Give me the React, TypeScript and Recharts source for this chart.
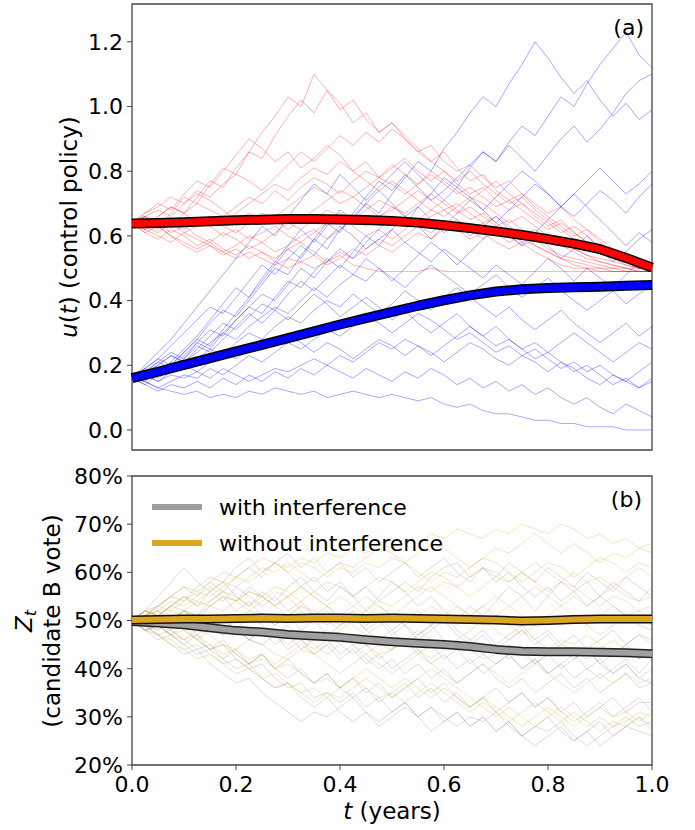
import React from 'react';
import { LineChart, Line, XAxis, YAxis, ReferenceArea, Legend } from 'recharts';

const FONT = '"DejaVu Sans", sans-serif';

// sample-path time grid (years)
const T_PATH = [
  0, 0.025, 0.05, 0.075, 0.1, 0.125, 0.15, 0.175, 0.2, 0.225, 0.25, 0.275, 0.3, 0.325, 0.35, 0.375, 0.4, 0.425, 0.45, 0.475,
  0.5, 0.525, 0.55, 0.575, 0.6, 0.625, 0.65, 0.675, 0.7, 0.725, 0.75, 0.775, 0.8, 0.825, 0.85, 0.875, 0.9, 0.925, 0.95, 0.975, 1.0,
];
// mean-curve time grid (years)
const T_MEAN = [0, 0.05, 0.1, 0.15, 0.2, 0.25, 0.3, 0.35, 0.4, 0.45, 0.5, 0.55, 0.6, 0.65, 0.7, 0.75, 0.8, 0.85, 0.9, 0.95, 1.0];

const X_TICKS = [0, 0.2, 0.4, 0.6, 0.8, 1.0];
const U_TICKS = [0, 0.2, 0.4, 0.6, 0.8, 1.0, 1.2];
const Z_TICKS = [20, 30, 40, 50, 60, 70, 80];

// panel (a): mean control policies
const RED_MEAN = [0.638, 0.64, 0.642, 0.645, 0.648, 0.65, 0.652, 0.652, 0.651, 0.649, 0.646, 0.641, 0.633, 0.624, 0.614, 0.603, 0.59, 0.576, 0.559, 0.532, 0.502];
const BLUE_MEAN = [0.16, 0.18, 0.201, 0.222, 0.243, 0.263, 0.284, 0.305, 0.326, 0.346, 0.365, 0.384, 0.401, 0.416, 0.428, 0.435, 0.439, 0.441, 0.443, 0.446, 0.448];

// panel (a): sample paths
const RED_PATHS = [
  [0.64, 0.66, 0.63, 0.67, 0.72, 0.7, 0.76, 0.81, 0.79, 0.86, 0.92, 0.97, 1.03, 1.0, 1.1, 1.05, 0.99, 1.02, 0.96, 0.92, 0.95, 0.9, 0.86, 0.88, 0.83, 0.8, 0.82, 0.78, 0.75, 0.77, 0.73, 0.7, 0.67, 0.69, 0.65, 0.62, 0.59, 0.56, 0.53, 0.51, 0.5],
  [0.64, 0.62, 0.66, 0.69, 0.67, 0.72, 0.77, 0.75, 0.81, 0.86, 0.84, 0.91, 0.97, 1.02, 0.98, 1.05, 1.01, 0.95, 0.98, 0.92, 0.95, 0.91, 0.87, 0.83, 0.86, 0.81, 0.77, 0.79, 0.74, 0.71, 0.73, 0.69, 0.66, 0.63, 0.6, 0.62, 0.58, 0.55, 0.53, 0.51, 0.5],
  [0.64, 0.67, 0.7, 0.68, 0.73, 0.77, 0.75, 0.8, 0.85, 0.9, 0.87, 0.83, 0.86, 0.81, 0.84, 0.88, 0.85, 0.8, 0.83, 0.78, 0.81, 0.84, 0.8, 0.77, 0.8, 0.76, 0.73, 0.75, 0.71, 0.68, 0.7, 0.66, 0.63, 0.65, 0.61, 0.58, 0.56, 0.54, 0.52, 0.51, 0.5],
  [0.64, 0.62, 0.65, 0.63, 0.67, 0.7, 0.68, 0.66, 0.69, 0.72, 0.7, 0.74, 0.71, 0.75, 0.78, 0.76, 0.73, 0.77, 0.8, 0.78, 0.82, 0.79, 0.76, 0.8, 0.77, 0.74, 0.71, 0.74, 0.77, 0.73, 0.7, 0.67, 0.64, 0.61, 0.63, 0.6, 0.57, 0.55, 0.53, 0.51, 0.5],
  [0.64, 0.61, 0.59, 0.62, 0.6, 0.57, 0.59, 0.56, 0.54, 0.57, 0.55, 0.53, 0.56, 0.58, 0.55, 0.52, 0.54, 0.51, 0.5, 0.49, 0.49, 0.49, 0.49, 0.5, 0.49, 0.49, 0.49, 0.49, 0.49, 0.49, 0.49, 0.49, 0.49, 0.49, 0.49, 0.49, 0.49, 0.49, 0.49, 0.49, 0.49],
  [0.64, 0.66, 0.64, 0.61, 0.63, 0.6, 0.58, 0.61, 0.59, 0.56, 0.58, 0.55, 0.57, 0.6, 0.62, 0.59, 0.62, 0.65, 0.63, 0.66, 0.69, 0.67, 0.7, 0.73, 0.7, 0.67, 0.69, 0.66, 0.63, 0.65, 0.62, 0.59, 0.61, 0.58, 0.56, 0.54, 0.52, 0.51, 0.5, 0.49, 0.49],
  [0.64, 0.63, 0.66, 0.69, 0.67, 0.64, 0.66, 0.63, 0.61, 0.64, 0.67, 0.65, 0.62, 0.65, 0.68, 0.71, 0.74, 0.72, 0.75, 0.78, 0.76, 0.73, 0.76, 0.79, 0.76, 0.73, 0.75, 0.72, 0.69, 0.71, 0.68, 0.65, 0.62, 0.64, 0.61, 0.58, 0.56, 0.54, 0.52, 0.5, 0.5],
  [0.64, 0.62, 0.6, 0.58, 0.61, 0.59, 0.57, 0.55, 0.53, 0.55, 0.53, 0.51, 0.53, 0.52, 0.5, 0.52, 0.55, 0.53, 0.56, 0.59, 0.57, 0.6, 0.63, 0.61, 0.64, 0.62, 0.59, 0.61, 0.58, 0.56, 0.58, 0.55, 0.53, 0.51, 0.5, 0.5, 0.49, 0.49, 0.49, 0.49, 0.49],
  [0.64, 0.67, 0.69, 0.72, 0.7, 0.73, 0.71, 0.68, 0.65, 0.67, 0.64, 0.66, 0.69, 0.72, 0.75, 0.73, 0.7, 0.72, 0.69, 0.66, 0.68, 0.71, 0.74, 0.71, 0.68, 0.7, 0.67, 0.64, 0.66, 0.63, 0.6, 0.62, 0.59, 0.57, 0.55, 0.53, 0.52, 0.51, 0.5, 0.5, 0.5],
  [0.64, 0.65, 0.62, 0.64, 0.61, 0.63, 0.66, 0.64, 0.67, 0.7, 0.73, 0.76, 0.74, 0.78, 0.81, 0.79, 0.83, 0.8, 0.77, 0.74, 0.77, 0.74, 0.71, 0.68, 0.71, 0.68, 0.65, 0.67, 0.64, 0.61, 0.59, 0.57, 0.55, 0.53, 0.52, 0.51, 0.5, 0.5, 0.49, 0.49, 0.49],
  [0.64, 0.61, 0.63, 0.6, 0.57, 0.55, 0.57, 0.54, 0.56, 0.53, 0.55, 0.52, 0.5, 0.52, 0.54, 0.51, 0.53, 0.56, 0.54, 0.57, 0.55, 0.58, 0.61, 0.59, 0.62, 0.65, 0.62, 0.64, 0.61, 0.58, 0.6, 0.57, 0.55, 0.53, 0.51, 0.5, 0.5, 0.49, 0.49, 0.49, 0.49],
  [0.64, 0.66, 0.68, 0.66, 0.7, 0.74, 0.72, 0.76, 0.79, 0.77, 0.74, 0.78, 0.82, 0.86, 0.83, 0.87, 0.91, 0.88, 0.92, 0.89, 0.93, 0.9, 0.86, 0.83, 0.8, 0.77, 0.8, 0.76, 0.73, 0.7, 0.72, 0.68, 0.65, 0.62, 0.59, 0.57, 0.55, 0.53, 0.51, 0.5, 0.5],
  [0.64, 0.63, 0.61, 0.64, 0.62, 0.65, 0.63, 0.6, 0.62, 0.59, 0.61, 0.63, 0.6, 0.58, 0.61, 0.64, 0.67, 0.65, 0.68, 0.71, 0.69, 0.66, 0.63, 0.66, 0.68, 0.65, 0.62, 0.59, 0.62, 0.6, 0.57, 0.59, 0.56, 0.54, 0.53, 0.52, 0.51, 0.5, 0.5, 0.49, 0.49],
  [0.64, 0.66, 0.63, 0.6, 0.58, 0.56, 0.58, 0.55, 0.57, 0.6, 0.58, 0.61, 0.64, 0.62, 0.65, 0.68, 0.66, 0.63, 0.6, 0.62, 0.59, 0.62, 0.65, 0.68, 0.66, 0.69, 0.72, 0.7, 0.67, 0.64, 0.66, 0.63, 0.6, 0.58, 0.56, 0.54, 0.53, 0.52, 0.51, 0.5, 0.5],
];

const BLUE_PATHS = [
  [0.16, 0.18, 0.21, 0.24, 0.22, 0.27, 0.31, 0.29, 0.34, 0.38, 0.42, 0.4, 0.45, 0.5, 0.47, 0.52, 0.56, 0.53, 0.58, 0.62, 0.66, 0.63, 0.69, 0.73, 0.78, 0.75, 0.81, 0.86, 0.83, 0.89, 0.94, 0.91, 0.97, 1.03, 1.0, 1.07, 1.13, 1.18, 1.23, 1.16, 1.12],
  [0.16, 0.19, 0.22, 0.2, 0.24, 0.28, 0.33, 0.37, 0.35, 0.4, 0.45, 0.5, 0.48, 0.54, 0.59, 0.56, 0.62, 0.66, 0.7, 0.67, 0.73, 0.78, 0.83, 0.8, 0.87, 0.92, 0.98, 1.03, 1.0, 1.07, 1.13, 1.2, 1.15, 1.09, 1.04, 1.08, 1.02, 0.97, 1.01, 0.96, 0.99],
  [0.16, 0.14, 0.17, 0.2, 0.24, 0.28, 0.26, 0.31, 0.36, 0.41, 0.46, 0.51, 0.56, 0.53, 0.59, 0.64, 0.61, 0.67, 0.72, 0.77, 0.74, 0.79, 0.75, 0.71, 0.74, 0.78, 0.82, 0.86, 0.83, 0.88, 0.84, 0.8, 0.85, 0.9, 0.94, 0.89, 0.93, 0.98, 1.04, 1.08, 1.1],
  [0.16, 0.18, 0.16, 0.19, 0.23, 0.27, 0.25, 0.3, 0.34, 0.38, 0.36, 0.41, 0.46, 0.44, 0.49, 0.53, 0.5, 0.55, 0.6, 0.57, 0.62, 0.66, 0.63, 0.59, 0.63, 0.67, 0.71, 0.68, 0.64, 0.68, 0.72, 0.76, 0.73, 0.69, 0.66, 0.7, 0.74, 0.71, 0.67, 0.72, 0.76],
  [0.16, 0.17, 0.2, 0.23, 0.21, 0.25, 0.29, 0.33, 0.31, 0.35, 0.39, 0.37, 0.42, 0.46, 0.43, 0.47, 0.51, 0.48, 0.53, 0.5, 0.46, 0.5, 0.54, 0.58, 0.55, 0.51, 0.55, 0.59, 0.63, 0.6, 0.57, 0.61, 0.57, 0.53, 0.56, 0.6, 0.56, 0.52, 0.55, 0.59, 0.62],
  [0.16, 0.15, 0.13, 0.12, 0.11, 0.12, 0.1, 0.11, 0.1, 0.12, 0.11, 0.13, 0.12, 0.11, 0.12, 0.1, 0.11, 0.12, 0.11, 0.1, 0.11, 0.1, 0.09, 0.1, 0.08, 0.07, 0.08, 0.06, 0.05, 0.05, 0.04, 0.03, 0.03, 0.02, 0.02, 0.01, 0.01, 0.01, 0.0, 0.0, 0.0],
  [0.16, 0.14, 0.12, 0.14, 0.13, 0.15, 0.13, 0.16, 0.14, 0.17, 0.15, 0.18, 0.16, 0.19, 0.17, 0.2, 0.18, 0.16, 0.19, 0.17, 0.15, 0.18, 0.16, 0.19, 0.17, 0.14, 0.16, 0.13, 0.15, 0.12, 0.14, 0.11, 0.13, 0.1, 0.08, 0.1, 0.07, 0.05, 0.08, 0.06, 0.04],
  [0.16, 0.17, 0.15, 0.18, 0.2, 0.18, 0.21, 0.24, 0.22, 0.25, 0.28, 0.26, 0.29, 0.27, 0.24, 0.27, 0.25, 0.22, 0.25, 0.28, 0.26, 0.23, 0.26, 0.24, 0.21, 0.24, 0.27, 0.25, 0.22, 0.2, 0.23, 0.21, 0.18, 0.21, 0.19, 0.16, 0.14, 0.17, 0.15, 0.13, 0.16],
  [0.16, 0.15, 0.18, 0.21, 0.19, 0.22, 0.25, 0.23, 0.27, 0.3, 0.28, 0.32, 0.35, 0.33, 0.37, 0.4, 0.38, 0.42, 0.39, 0.36, 0.39, 0.43, 0.4, 0.37, 0.41, 0.44, 0.41, 0.38, 0.35, 0.38, 0.34, 0.31, 0.34, 0.37, 0.33, 0.3, 0.27, 0.3, 0.33, 0.29, 0.32],
  [0.16, 0.18, 0.2, 0.23, 0.21, 0.24, 0.27, 0.3, 0.28, 0.32, 0.35, 0.38, 0.36, 0.4, 0.44, 0.41, 0.45, 0.48, 0.46, 0.5, 0.47, 0.44, 0.48, 0.51, 0.48, 0.45, 0.42, 0.45, 0.48, 0.44, 0.41, 0.44, 0.47, 0.43, 0.4, 0.37, 0.4, 0.43, 0.39, 0.42, 0.45],
  [0.16, 0.15, 0.13, 0.15, 0.17, 0.16, 0.19, 0.17, 0.2, 0.23, 0.21, 0.24, 0.27, 0.25, 0.28, 0.31, 0.29, 0.32, 0.35, 0.33, 0.3, 0.33, 0.36, 0.34, 0.31, 0.28, 0.3, 0.27, 0.24, 0.26, 0.23, 0.25, 0.22, 0.19, 0.21, 0.18, 0.2, 0.17, 0.15, 0.18, 0.21],
  [0.16, 0.17, 0.15, 0.17, 0.16, 0.18, 0.16, 0.19, 0.17, 0.15, 0.17, 0.19, 0.18, 0.2, 0.22, 0.2, 0.23, 0.21, 0.24, 0.27, 0.25, 0.28, 0.26, 0.23, 0.26, 0.29, 0.32, 0.29, 0.26, 0.28, 0.25, 0.22, 0.24, 0.27, 0.3, 0.27, 0.24, 0.21, 0.24, 0.27, 0.25],
  [0.16, 0.19, 0.22, 0.26, 0.3, 0.34, 0.38, 0.36, 0.41, 0.46, 0.51, 0.48, 0.53, 0.57, 0.54, 0.59, 0.63, 0.6, 0.56, 0.59, 0.62, 0.58, 0.55, 0.52, 0.56, 0.53, 0.5, 0.47, 0.51, 0.48, 0.45, 0.49, 0.53, 0.5, 0.46, 0.5, 0.47, 0.44, 0.48, 0.52, 0.49],
  [0.16, 0.2, 0.24, 0.28, 0.33, 0.38, 0.43, 0.48, 0.53, 0.58, 0.63, 0.6, 0.66, 0.71, 0.76, 0.73, 0.79, 0.75, 0.71, 0.75, 0.79, 0.83, 0.79, 0.75, 0.71, 0.75, 0.72, 0.68, 0.72, 0.76, 0.8, 0.77, 0.73, 0.69, 0.73, 0.77, 0.81, 0.77, 0.73, 0.76, 0.8],
  [0.16, 0.18, 0.21, 0.19, 0.22, 0.26, 0.24, 0.28, 0.32, 0.36, 0.33, 0.37, 0.34, 0.38, 0.42, 0.39, 0.35, 0.38, 0.41, 0.38, 0.34, 0.37, 0.33, 0.3, 0.33, 0.36, 0.32, 0.29, 0.32, 0.28, 0.25, 0.27, 0.24, 0.21, 0.18, 0.2, 0.17, 0.14, 0.16, 0.13, 0.15],
  [0.16, 0.19, 0.17, 0.21, 0.25, 0.29, 0.34, 0.39, 0.44, 0.41, 0.47, 0.52, 0.57, 0.62, 0.58, 0.63, 0.68, 0.65, 0.7, 0.74, 0.7, 0.66, 0.69, 0.65, 0.61, 0.64, 0.6, 0.63, 0.66, 0.62, 0.58, 0.61, 0.65, 0.69, 0.73, 0.69, 0.65, 0.61, 0.57, 0.61, 0.58],
];

// panel (b): mean vote share (%)
const GRAY_MEAN = [49.8, 49.5, 49.1, 48.5, 47.9, 47.6, 47.1, 46.8, 46.5, 46.0, 45.6, 45.3, 45.0, 44.6, 44.0, 43.6, 43.5, 43.5, 43.4, 43.3, 43.1];
const GOLD_MEAN = [50.1, 50.2, 50.3, 50.3, 50.4, 50.5, 50.4, 50.5, 50.5, 50.4, 50.5, 50.4, 50.3, 50.2, 50.1, 49.9, 50.0, 50.2, 50.3, 50.3, 50.3];

// panel (b): sample paths (%)
const GRAY_PATHS = [
  [50, 52, 55, 58, 61, 58, 56, 58, 55, 53, 56, 54, 57, 59, 56, 54, 57, 55, 52, 55, 58, 56, 53, 55, 52, 50, 53, 51, 54, 57, 55, 52, 55, 58, 56, 53, 55, 58, 56, 54, 57],
  [50, 51, 53, 55, 54, 57, 59, 58, 61, 63, 60, 62, 64, 61, 63, 60, 62, 59, 61, 58, 60, 62, 59, 61, 63, 60, 58, 61, 59, 62, 60, 58, 61, 59, 57, 60, 58, 56, 59, 57, 55],
  [50, 48, 47, 45, 43, 44, 41, 39, 37, 38, 35, 33, 31, 29, 31, 30, 32, 34, 31, 29, 31, 33, 30, 32, 30, 28, 30, 29, 31, 28, 26, 28, 30, 27, 25, 27, 29, 26, 28, 30, 28],
  [50, 49, 47, 48, 46, 44, 45, 42, 40, 41, 38, 36, 37, 34, 32, 34, 31, 29, 31, 28, 30, 32, 30, 27, 29, 31, 28, 30, 27, 29, 26, 24, 26, 28, 25, 27, 24, 26, 28, 27, 26],
  [50, 51, 49, 50, 52, 50, 48, 47, 49, 46, 45, 47, 44, 46, 43, 45, 42, 44, 41, 43, 40, 42, 44, 41, 43, 40, 42, 39, 41, 43, 40, 42, 39, 41, 38, 40, 42, 39, 41, 38, 40],
  [50, 49, 51, 48, 50, 47, 49, 51, 48, 46, 48, 45, 47, 44, 46, 48, 45, 43, 45, 42, 44, 46, 43, 45, 42, 44, 41, 43, 45, 42, 44, 41, 43, 40, 42, 44, 41, 39, 41, 38, 37],
  [50, 52, 51, 53, 55, 53, 56, 54, 57, 55, 53, 55, 52, 54, 51, 53, 50, 52, 49, 51, 48, 50, 52, 49, 51, 48, 46, 48, 45, 47, 49, 46, 48, 45, 47, 44, 46, 48, 45, 47, 46],
  [50, 48, 49, 47, 45, 47, 44, 42, 44, 41, 43, 40, 38, 40, 37, 39, 36, 38, 35, 37, 34, 36, 38, 35, 37, 34, 32, 34, 36, 33, 35, 32, 34, 31, 33, 30, 32, 34, 31, 33, 33],
  [50, 49, 48, 50, 52, 51, 54, 56, 54, 57, 55, 53, 55, 52, 50, 52, 49, 51, 48, 46, 48, 45, 47, 49, 46, 44, 46, 43, 41, 43, 40, 42, 39, 41, 43, 40, 38, 40, 42, 39, 42],
  [50, 51, 52, 50, 48, 46, 44, 45, 42, 40, 41, 38, 36, 37, 34, 35, 33, 35, 32, 34, 31, 33, 30, 32, 29, 31, 28, 30, 27, 29, 26, 28, 27, 29, 26, 24, 26, 28, 30, 28, 29],
  [50, 48, 49, 47, 49, 46, 48, 50, 48, 51, 49, 47, 49, 46, 44, 46, 43, 45, 42, 40, 42, 39, 41, 38, 40, 37, 39, 41, 38, 36, 38, 35, 37, 39, 36, 38, 35, 37, 39, 36, 37],
  [50, 52, 53, 55, 57, 55, 58, 56, 59, 61, 59, 62, 60, 57, 59, 56, 58, 55, 57, 54, 56, 58, 56, 59, 61, 62, 59, 61, 58, 60, 57, 55, 57, 54, 56, 58, 55, 53, 51, 49, 48],
  [50, 49, 51, 53, 52, 50, 53, 55, 52, 54, 51, 49, 51, 48, 50, 47, 49, 51, 48, 50, 47, 49, 46, 48, 50, 47, 45, 47, 44, 46, 48, 45, 47, 44, 42, 44, 41, 43, 45, 42, 44],
  [50, 48, 46, 47, 45, 43, 44, 46, 43, 41, 43, 40, 42, 39, 37, 39, 36, 34, 36, 33, 35, 37, 34, 36, 33, 35, 32, 34, 31, 33, 35, 32, 34, 31, 29, 31, 33, 30, 32, 34, 31],
];

const GOLD_PATHS = [
  [50, 51, 53, 52, 54, 56, 55, 57, 59, 58, 60, 62, 61, 63, 62, 64, 63, 65, 64, 66, 65, 67, 66, 68, 67, 69, 68, 67, 69, 68, 70, 69, 68, 70, 69, 67, 68, 66, 67, 65, 66],
  [50, 52, 51, 53, 55, 54, 56, 58, 57, 59, 61, 60, 62, 60, 58, 60, 62, 61, 63, 65, 64, 62, 64, 66, 65, 63, 61, 63, 65, 64, 66, 68, 66, 64, 66, 64, 62, 64, 63, 65, 64],
  [50, 49, 47, 46, 44, 45, 43, 41, 42, 40, 38, 39, 37, 35, 36, 34, 36, 38, 36, 34, 35, 33, 35, 37, 35, 33, 31, 33, 31, 29, 31, 33, 31, 29, 31, 29, 27, 29, 28, 30, 27],
  [50, 48, 49, 47, 48, 46, 44, 45, 43, 41, 42, 40, 41, 39, 37, 38, 36, 38, 40, 38, 36, 38, 36, 34, 36, 34, 32, 34, 32, 30, 28, 30, 32, 30, 28, 30, 32, 30, 31, 29, 31],
  [50, 51, 50, 52, 51, 49, 50, 48, 50, 52, 51, 49, 51, 53, 51, 49, 51, 49, 47, 49, 51, 49, 47, 49, 51, 53, 51, 49, 51, 53, 51, 49, 51, 53, 51, 49, 51, 53, 51, 52, 50],
  [50, 52, 51, 53, 55, 53, 54, 56, 55, 53, 55, 57, 56, 54, 56, 58, 57, 55, 57, 59, 58, 56, 58, 60, 59, 57, 59, 61, 60, 58, 60, 62, 60, 58, 60, 58, 59, 57, 59, 61, 59],
  [50, 49, 48, 50, 52, 51, 49, 47, 48, 46, 48, 47, 45, 47, 45, 43, 45, 47, 45, 43, 44, 46, 44, 42, 44, 46, 44, 42, 43, 45, 43, 41, 43, 45, 44, 42, 44, 46, 44, 42, 43],
  [50, 51, 52, 54, 53, 55, 57, 55, 54, 56, 55, 53, 55, 57, 55, 53, 51, 53, 55, 53, 51, 53, 55, 57, 55, 53, 51, 53, 55, 53, 55, 57, 55, 53, 55, 53, 55, 57, 55, 54, 55],
  [50, 49, 50, 48, 46, 47, 45, 43, 44, 42, 43, 41, 43, 45, 43, 41, 39, 41, 43, 41, 39, 41, 43, 41, 39, 37, 39, 41, 39, 37, 39, 41, 39, 37, 35, 37, 39, 37, 39, 37, 38],
  [50, 52, 51, 50, 52, 54, 53, 55, 54, 52, 54, 56, 55, 57, 55, 53, 55, 53, 51, 53, 51, 49, 51, 53, 51, 49, 51, 53, 51, 49, 47, 49, 51, 49, 51, 49, 47, 49, 51, 50, 49],
  [50, 48, 49, 47, 46, 48, 47, 45, 44, 46, 45, 43, 42, 44, 43, 45, 47, 45, 43, 45, 44, 46, 48, 46, 44, 46, 48, 50, 48, 46, 48, 46, 44, 46, 45, 47, 45, 43, 45, 47, 45],
  [50, 51, 53, 55, 57, 56, 58, 60, 59, 61, 63, 62, 60, 62, 61, 59, 61, 60, 62, 61, 63, 62, 60, 58, 60, 59, 61, 63, 62, 60, 58, 60, 62, 61, 59, 61, 63, 62, 60, 62, 61],
  [50, 49, 47, 45, 44, 42, 43, 41, 39, 40, 38, 36, 37, 35, 33, 35, 34, 36, 38, 36, 34, 36, 38, 40, 38, 36, 34, 32, 30, 32, 30, 28, 30, 32, 30, 28, 30, 28, 29, 31, 30],
  [50, 51, 52, 50, 49, 51, 53, 52, 54, 56, 55, 53, 51, 53, 52, 50, 48, 50, 52, 54, 53, 55, 57, 56, 58, 57, 55, 57, 59, 58, 60, 58, 56, 58, 57, 55, 53, 55, 54, 52, 53],
];

const LEGEND_ITEMS = [
  { name: 'with interference', color: '#a0a0a0' },
  { name: 'without interference', color: '#daa520' },
];

const U_DOMAIN: [number, number] = [-0.062, 1.317];
const Z_DOMAIN: [number, number] = [20, 80];

const meanIndex = (t: number) => T_MEAN.findIndex((m) => Math.abs(m - t) < 1e-9);

const topData = T_PATH.map((t, i) => {
  const row: Record<string, number | undefined> = { t };
  const m = meanIndex(t);
  row.rm = m >= 0 ? RED_MEAN[m] : undefined;
  row.bm = m >= 0 ? BLUE_MEAN[m] : undefined;
  RED_PATHS.forEach((p, k) => (row['r' + k] = p[i]));
  BLUE_PATHS.forEach((p, k) => (row['b' + k] = p[i]));
  return row;
});

const bottomData = T_PATH.map((t, i) => {
  const row: Record<string, number | undefined> = { t };
  const m = meanIndex(t);
  row.gm = m >= 0 ? GRAY_MEAN[m] : undefined;
  row.om = m >= 0 ? GOLD_MEAN[m] : undefined;
  GRAY_PATHS.forEach((p, k) => (row['g' + k] = p[i]));
  GOLD_PATHS.forEach((p, k) => (row['o' + k] = p[i]));
  return row;
});

const thin = (key: string, color: string, opacity: number) => (
  <Line
    key={key}
    dataKey={key}
    type="linear"
    stroke={color}
    strokeOpacity={opacity}
    strokeWidth={1}
    dot={false}
    activeDot={false}
    isAnimationActive={false}
    legendType="none"
  />
);

const thick = (key: string, id: string, color: string, width: number) => (
  <Line
    key={id}
    dataKey={key}
    type="linear"
    stroke={color}
    strokeWidth={width}
    strokeLinejoin="round"
    connectNulls
    dot={false}
    activeDot={false}
    isAnimationActive={false}
    legendType="none"
  />
);

const makeYTick = (fmt: (v: number) => string) => (props: any) => (
  <text x={props.x} y={props.y} dy="0.36em" textAnchor="end" fontSize={22} fontFamily={FONT} fill="#000">
    {fmt(props.payload.value)}
  </text>
);

const XTick = (props: any) => (
  <text x={props.x} y={props.y} dy="0.75em" textAnchor="middle" fontSize={22} fontFamily={FONT} fill="#000">
    {Number(props.payload.value).toFixed(1)}
  </text>
);

const renderLegend = () => (
  <div style={{ fontFamily: FONT, fontSize: 22, color: '#000' }}>
    {LEGEND_ITEMS.map((item) => (
      <div key={item.name} style={{ display: 'flex', alignItems: 'center', height: 36 }}>
        <svg width={50} height={10} style={{ marginRight: 17 }}>
          <line x1={0} y1={5} x2={50} y2={5} stroke={item.color} strokeWidth={6} />
        </svg>
        <span style={{ whiteSpace: 'nowrap' }}>{item.name}</span>
      </div>
    ))}
  </div>
);

export default function App() {
  return (
    <div style={{ position: 'absolute', left: 0, top: 0, width: 695, height: 830, background: '#fff', fontFamily: FONT }}>
      <div style={{ position: 'absolute', left: 0, top: 0 }}>
        <LineChart width={695} height={460} data={topData} margin={{ top: 4, right: 43, bottom: 10, left: 62 }}>
          <XAxis dataKey="t" type="number" domain={[0, 1]} hide />
          <YAxis
            type="number"
            domain={U_DOMAIN}
            ticks={U_TICKS}
            allowDataOverflow
            width={70}
            axisLine={false}
            tickSize={5}
            tickMargin={4}
            tickLine={{ stroke: '#444' }}
            tick={makeYTick((v) => v.toFixed(1))}
          />
          {RED_PATHS.map((_, k) => thin('r' + k, '#ff0000', 0.3))}
          {BLUE_PATHS.map((_, k) => thin('b' + k, '#0000ff', 0.34))}
          {thick('rm', 'rm-edge', '#000', 10)}
          {thick('rm', 'rm-fill', '#ff0000', 7)}
          {thick('bm', 'bm-edge', '#000', 10)}
          {thick('bm', 'bm-fill', '#0000ff', 7)}
          <ReferenceArea x1={0} x2={1} y1={U_DOMAIN[0]} y2={U_DOMAIN[1]} fill="none" stroke="#444" strokeWidth={1.3} />
        </LineChart>
      </div>
      <div style={{ position: 'absolute', left: 0, top: 446 }}>
        <LineChart width={695} height={384} data={bottomData} margin={{ top: 30, right: 43, bottom: 0, left: 62 }}>
          <XAxis
            dataKey="t"
            type="number"
            domain={[0, 1]}
            ticks={X_TICKS}
            height={65}
            axisLine={false}
            tickSize={5}
            tickMargin={5}
            tickLine={{ stroke: '#444' }}
            tick={XTick}
          />
          <YAxis
            type="number"
            domain={Z_DOMAIN}
            ticks={Z_TICKS}
            allowDataOverflow
            width={70}
            axisLine={false}
            tickSize={5}
            tickMargin={4}
            tickLine={{ stroke: '#444' }}
            tick={makeYTick((v) => `${v}%`)}
          />
          {GRAY_PATHS.map((_, k) => thin('g' + k, '#808080', 0.28))}
          {GOLD_PATHS.map((_, k) => thin('o' + k, '#daa520', 0.3))}
          {thick('gm', 'gm-edge', '#222', 9)}
          {thick('gm', 'gm-fill', '#a0a0a0', 6)}
          {thick('om', 'om-edge', '#111', 9)}
          {thick('om', 'om-fill', '#daa520', 6)}
          <ReferenceArea x1={0} x2={1} y1={Z_DOMAIN[0]} y2={Z_DOMAIN[1]} fill="none" stroke="#444" strokeWidth={1.3} />
          <Legend
            layout="vertical"
            align="center"
            verticalAlign="middle"
            content={renderLegend}
            wrapperStyle={{ left: 152, top: 43, width: 'auto', height: 'auto' }}
          />
        </LineChart>
      </div>
      <svg
        width={695}
        height={830}
        style={{ position: 'absolute', left: 0, top: 0, pointerEvents: 'none' }}
        fontFamily={FONT}
        fontSize={23}
        fill="#000"
      >
        <text transform="translate(77,227) rotate(-90)" textAnchor="middle">
          <tspan fontStyle="italic">u</tspan>(<tspan fontStyle="italic">t</tspan>) (control policy)
        </text>
        <text transform="translate(32,621) rotate(-90)" textAnchor="middle">
          <tspan fontStyle="italic">Z</tspan>
          <tspan fontStyle="italic" fontSize={16} dy={4}>t</tspan>
        </text>
        <text transform="translate(60,621) rotate(-90)" textAnchor="middle">(candidate B vote)</text>
        <text x={392} y={819} textAnchor="middle">
          <tspan fontStyle="italic">t</tspan> (years)
        </text>
        <text x={644} y={35} textAnchor="end" fontSize={22}>(a)</text>
        <text x={642} y={507} textAnchor="end" fontSize={22}>(b)</text>
      </svg>
    </div>
  );
}
